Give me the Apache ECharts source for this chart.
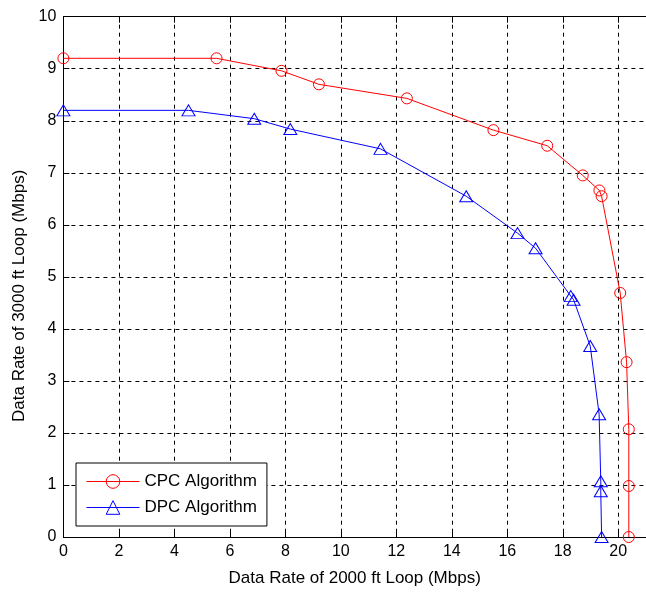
<!DOCTYPE html>
<html>
<head>
<meta charset="utf-8">
<script src="https://cdn.jsdelivr.net/npm/echarts@6/dist/echarts.min.js"></script>
<style>
html,body{margin:0;padding:0;background:#fff;}
#chart{width:646px;height:592px;}
</style>
</head>
<body>
<div id="chart"></div>
<script>
var seriesNames = ['CPC Algorithm', 'DPC Algorithm'];
var cpcX = [0, 5.52, 7.86, 9.21, 12.38, 15.50, 17.44, 18.72, 19.32, 19.40, 20.07, 20.30, 20.38, 20.38, 20.38];
var cpcY = [9.20, 9.20, 8.96, 8.70, 8.43, 7.82, 7.52, 6.95, 6.66, 6.55, 4.69, 3.36, 2.07, 0.98, 0];
var dpcX = [0, 4.51, 6.88, 8.18, 11.43, 14.52, 16.37, 17.02, 18.29, 18.39, 18.99, 19.31, 19.37, 19.37, 19.40];
var dpcY = [8.20, 8.20, 8.04, 7.84, 7.46, 6.55, 5.84, 5.55, 4.63, 4.56, 3.67, 2.36, 1.07, 0.88, 0];
var xTicks = [0, 2, 4, 6, 8, 10, 12, 14, 16, 18, 20];
var yTicks = [0, 1, 2, 3, 4, 5, 6, 7, 8, 9, 10];
var xName = 'Data Rate of 2000 ft Loop (Mbps)';
var yName = 'Data Rate of 3000 ft Loop (Mbps)';

function pairs(xs, ys) { return xs.map(function (x, i) { return [x, ys[i]]; }); }

var FONT = 'Liberation Sans, Arial, sans-serif';
var dash = { color: '#000', type: [4, 4], width: 1 };

var chart = echarts.init(document.getElementById('chart'), null, { renderer: 'canvas' });
chart.setOption({
  animation: false,
  backgroundColor: '#fff',
  textStyle: { fontFamily: FONT },
  grid: { left: 63.4, right: -2, top: 16.7, bottom: 54.3, containLabel: false },
  legend: {
    left: 76, top: 463,
    orient: 'vertical',
    backgroundColor: '#fff',
    borderColor: '#000', borderWidth: 1, borderRadius: 0,
    padding: [10, 10, 10, 10],
    itemWidth: 53, itemHeight: 17, itemGap: 9,
    lineStyle: { width: 1 },
    itemStyle: { borderWidth: 1 },
    textStyle: { fontFamily: FONT, fontSize: 17, color: '#000' },
    data: seriesNames
  },
  xAxis: [{
    type: 'value', min: 0, max: 21, interval: 2,
    name: xName, nameLocation: 'middle', nameGap: 33,
    nameTextStyle: { fontFamily: FONT, fontSize: 17, color: '#000' },
    axisLine: { show: true, lineStyle: { color: '#000', width: 1 } },
    axisTick: { show: true, inside: true, length: 6, lineStyle: { color: '#000' } },
    axisLabel: { fontFamily: FONT, fontSize: 16, color: '#000', margin: 7, showMaxLabel: false,
      formatter: function (v) { return xTicks.indexOf(v) >= 0 ? String(v) : ''; } },
    splitLine: { show: true, lineStyle: dash }
  }, {
    type: 'value', position: 'top', min: 0, max: 21, interval: 2,
    axisLine: { show: true, onZero: false, lineStyle: { color: '#000', width: 1 } },
    axisTick: { show: true, inside: true, length: 6, lineStyle: { color: '#000' } },
    axisLabel: { show: false },
    splitLine: { show: false }
  }],
  yAxis: [{
    type: 'value', min: 0, max: 10, interval: 1,
    name: yName, nameLocation: 'middle', nameGap: 33, nameRotate: 90,
    nameTextStyle: { fontFamily: FONT, fontSize: 17, color: '#000', padding: [0, 38, 0, 0] },
    axisLine: { show: true, lineStyle: { color: '#000', width: 1 } },
    axisTick: { show: true, inside: true, length: 6, lineStyle: { color: '#000' } },
    axisLabel: { fontFamily: FONT, fontSize: 16, color: '#000', margin: 7,
      formatter: function (v) { return yTicks.indexOf(v) >= 0 ? String(v) : ''; } },
    splitLine: { show: true, lineStyle: dash }
  }],
  series: [{
    name: seriesNames[0], type: 'line', xAxisIndex: 0, yAxisIndex: 0,
    data: pairs(cpcX, cpcY),
    symbol: 'circle', symbolSize: 11, showAllSymbol: true,
    lineStyle: { color: '#ff0000', width: 1 },
    itemStyle: { color: 'rgba(255,255,255,0)', borderColor: '#ff0000', borderWidth: 1 },
    emphasis: { disabled: true }
  }, {
    name: seriesNames[1], type: 'line', xAxisIndex: 0, yAxisIndex: 0,
    data: pairs(dpcX, dpcY),
    symbol: 'triangle', symbolSize: [13, 11], showAllSymbol: true,
    lineStyle: { color: '#0000ff', width: 1 },
    itemStyle: { color: 'rgba(255,255,255,0)', borderColor: '#0000ff', borderWidth: 1 },
    emphasis: { disabled: true }
  }]
});
</script>
</body>
</html>
